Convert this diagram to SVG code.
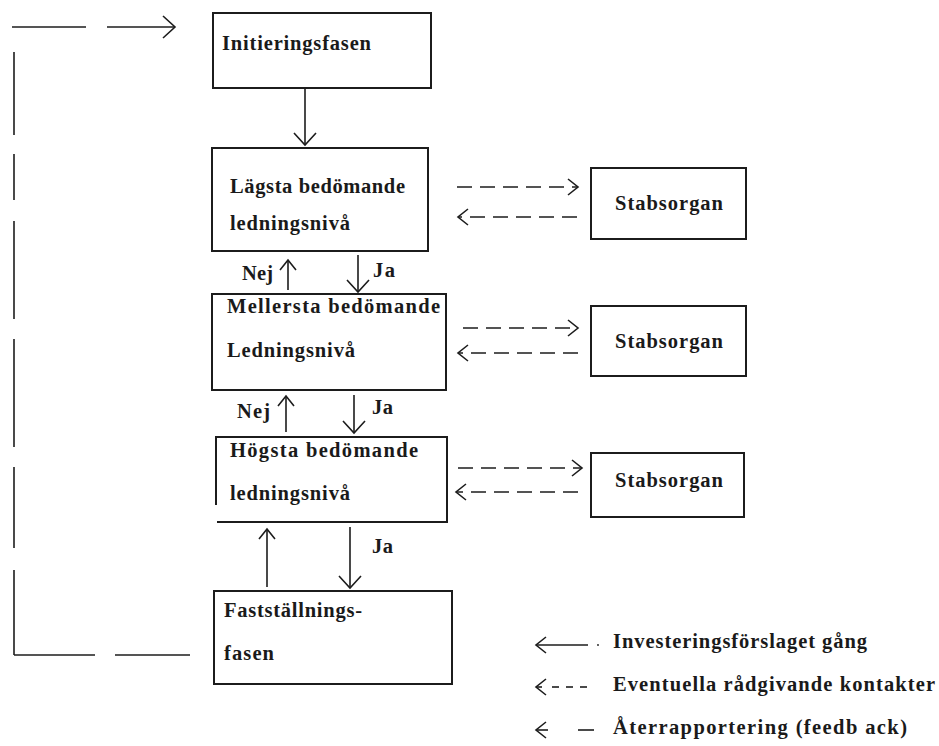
<svg xmlns="http://www.w3.org/2000/svg" width="939" height="746" viewBox="0 0 939 746">
  <style>
    .box { fill: #ffffff; stroke: #1c1c1c; stroke-width: 2; }
    .ln { fill: none; stroke: #1c1c1c; stroke-width: 1.6; }
    .dash { fill: none; stroke: #1c1c1c; stroke-width: 1.7; stroke-dasharray: 15 8; }
    .lbl { font-family: "Liberation Serif", "Times New Roman", serif; font-weight: bold; font-size: 20.5px; fill: #1a1a1a; }
  </style>
  <defs>
    <marker id="head" markerUnits="userSpaceOnUse" markerWidth="30" markerHeight="30" refX="0" refY="0" viewBox="-15 -15 30 30" orient="auto" overflow="visible">
      <path d="M-12,-11 L0,0 L-12,11" fill="none" stroke="#1c1c1c" stroke-width="1.6"/>
    </marker>
    <marker id="headS" markerUnits="userSpaceOnUse" markerWidth="30" markerHeight="30" refX="0" refY="0" viewBox="-15 -15 30 30" orient="auto" overflow="visible">
      <path d="M-10,-8 L0,0 L-10,8" fill="none" stroke="#1c1c1c" stroke-width="1.6"/>
    </marker>
  </defs>

  <!-- process steps -->
  <g id="initiering">
    <rect class="box" x="213" y="13" width="218" height="75"/>
    <text class="lbl" x="222" y="50" textLength="149" lengthAdjust="spacing">Initieringsfasen</text>
  </g>
  <g id="lagsta">
    <rect class="box" x="212" y="148" width="216" height="103"/>
    <text class="lbl" x="230" y="193" textLength="175" lengthAdjust="spacing">Lägsta bedömande</text>
    <text class="lbl" x="230" y="230" textLength="120" lengthAdjust="spacing">ledningsnivå</text>
  </g>
  <g id="mellersta">
    <rect class="box" x="212" y="294" width="234" height="96"/>
    <text class="lbl" x="227" y="313" textLength="213" lengthAdjust="spacing">Mellersta bedömande</text>
    <text class="lbl" x="227" y="357" textLength="128" lengthAdjust="spacing">Ledningsnivå</text>
  </g>
  <g id="hogsta">
    <path class="box" d="M216,505 V437 H447 V522 H217" fill="none"/>
    <text class="lbl" x="230" y="457" textLength="188" lengthAdjust="spacing">Högsta bedömande</text>
    <text class="lbl" x="230" y="500" textLength="120" lengthAdjust="spacing">ledningsnivå</text>
  </g>
  <g id="faststallning">
    <rect class="box" x="214" y="591" width="238" height="93"/>
    <text class="lbl" x="224" y="617" textLength="138" lengthAdjust="spacing">Fastställnings-</text>
    <text class="lbl" x="224" y="660" textLength="50" lengthAdjust="spacing">fasen</text>
  </g>
  <g id="stab1">
    <rect class="box" x="591" y="168" width="155" height="71"/>
    <text class="lbl" x="615" y="210" textLength="108" lengthAdjust="spacing">Stabsorgan</text>
  </g>
  <g id="stab2">
    <rect class="box" x="591" y="306" width="155" height="70"/>
    <text class="lbl" x="615" y="348" textLength="108" lengthAdjust="spacing">Stabsorgan</text>
  </g>
  <g id="stab3">
    <rect class="box" x="591" y="453" width="153" height="64"/>
    <text class="lbl" x="615" y="487" textLength="108" lengthAdjust="spacing">Stabsorgan</text>
  </g>

  <!-- connectors -->
  <g id="connectors">
    <!-- main flow -->
    <line class="ln" x1="305" y1="88" x2="305" y2="145" marker-end="url(#head)"/>
    <line class="ln" x1="358" y1="255" x2="358" y2="292" marker-end="url(#head)"/>
    <line class="ln" x1="288" y1="290" x2="288" y2="260" marker-end="url(#headS)"/>
    <line class="ln" x1="354" y1="395" x2="354" y2="433" marker-end="url(#head)"/>
    <line class="ln" x1="286" y1="432" x2="286" y2="396" marker-end="url(#headS)"/>
    <line class="ln" x1="350" y1="527" x2="350" y2="588" marker-end="url(#head)"/>
    <line class="ln" x1="267" y1="587" x2="267" y2="529" marker-end="url(#headS)"/>

    <!-- decision labels -->
    <text class="lbl" x="242" y="280" textLength="31" lengthAdjust="spacing">Nej</text>
    <text class="lbl" x="373" y="277" textLength="22" lengthAdjust="spacing">Ja</text>
    <text class="lbl" x="237" y="418" textLength="33" lengthAdjust="spacing">Nej</text>
    <text class="lbl" x="372" y="414" textLength="21" lengthAdjust="spacing">Ja</text>
    <text class="lbl" x="372" y="553" textLength="21" lengthAdjust="spacing">Ja</text>

    <!-- advisory contacts -->
    <line class="dash" x1="457" y1="187" x2="578" y2="187" marker-end="url(#headS)"/>
    <line class="dash" x1="577" y1="217" x2="458" y2="217" marker-end="url(#headS)"/>
    <line class="dash" x1="463" y1="328" x2="578" y2="328" marker-end="url(#headS)"/>
    <line class="dash" x1="578" y1="353" x2="458" y2="353" marker-end="url(#headS)"/>
    <line class="dash" x1="458" y1="468" x2="582" y2="468" marker-end="url(#headS)"/>
    <line class="dash" x1="578" y1="492" x2="456" y2="492" marker-end="url(#headS)"/>

    <!-- feedback loop -->
    <g class="ln">
      <line x1="190" y1="655" x2="115" y2="655"/>
      <line x1="95" y1="655" x2="14" y2="655"/>
      <line x1="14" y1="655" x2="14" y2="570"/>
      <line x1="14" y1="548" x2="14" y2="467"/>
      <line x1="14" y1="447" x2="14" y2="339"/>
      <line x1="14" y1="319" x2="14" y2="221"/>
      <line x1="14" y1="200" x2="14" y2="154"/>
      <line x1="14" y1="135" x2="14" y2="52"/>
      <line x1="12" y1="27" x2="86" y2="27"/>
    </g>
    <line class="ln" x1="107" y1="27" x2="175" y2="27" marker-end="url(#head)"/>
  </g>

  <!-- key -->
  <g id="legend">
    <line class="ln" x1="588" y1="645" x2="536" y2="645" marker-end="url(#headS)"/>
    <circle cx="598" cy="645" r="0.9" fill="#1c1c1c"/>
    <text class="lbl" x="613" y="648" textLength="254" lengthAdjust="spacing">Investeringsförslaget gång</text>

    <line class="ln" x1="542" y1="687" x2="536" y2="687" marker-end="url(#headS)"/>
    <line class="ln" x1="552" y1="687" x2="559" y2="687"/>
    <line class="ln" x1="566" y1="687" x2="573" y2="687"/>
    <line class="ln" x1="580" y1="687" x2="587" y2="687"/>
    <text class="lbl" x="613" y="691" textLength="322" lengthAdjust="spacing">Eventuella rådgivande kontakter</text>

    <line class="ln" x1="548" y1="730" x2="536" y2="730" marker-end="url(#headS)"/>
    <line class="ln" x1="578" y1="730" x2="594" y2="730"/>
    <text class="lbl" x="613" y="734" textLength="294" lengthAdjust="spacing">Återrapportering (feedb ack)</text>
  </g>
</svg>
